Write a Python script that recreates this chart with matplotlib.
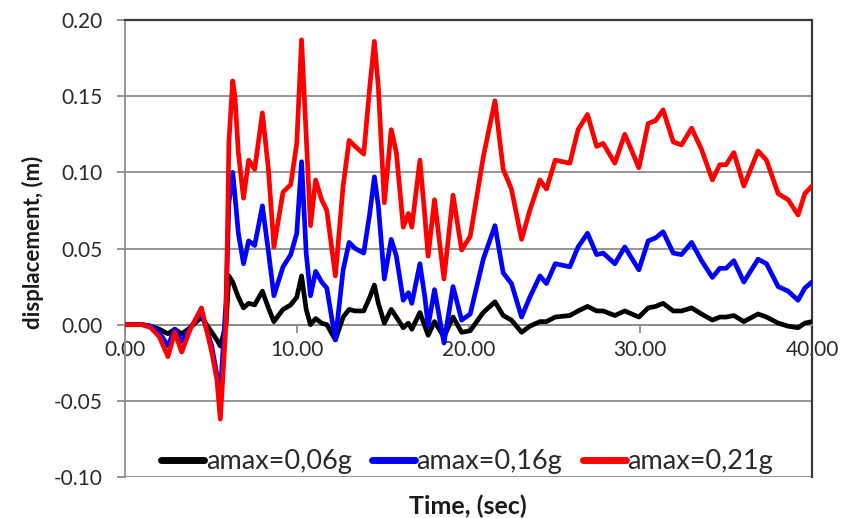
import matplotlib
matplotlib.use("Agg")
import matplotlib.pyplot as plt

time_s = [0, 1.0, 1.5, 2.0, 2.5, 2.9, 3.3, 3.8, 4.45, 5.05, 5.35, 5.55, 5.88, 6.05, 6.27, 6.4, 6.6, 6.9,
          7.2, 7.55, 8.0, 8.35, 8.67, 9.2, 9.65, 10.0, 10.28, 10.55, 10.8, 11.1, 11.45, 11.75, 12.25,
          12.7, 13.05, 13.4, 13.9, 14.25, 14.52, 14.75, 15.1, 15.5, 15.8, 16.2, 16.5, 16.7, 17.17,
          17.46, 17.65, 18.02, 18.57, 19.1, 19.6, 20.1, 20.86, 21.54, 22.02, 22.5, 23.09, 23.57,
          24.16, 24.54, 25.05, 25.9, 26.38, 26.93, 27.46, 27.84, 28.52, 29.1, 29.92, 30.46, 30.9,
          31.33, 31.92, 32.4, 32.99, 33.57, 34.2, 34.63, 35.0, 35.45, 36.03, 36.86, 37.35, 38.03,
          38.61, 39.19, 39.58, 40.0]

disp_006g = [0, 0, -0.001, -0.003, -0.006, -0.003, -0.006, -0.002, 0.005, -0.005, -0.010, -0.014, 0.0,
             0.032, 0.028, 0.024, 0.018, 0.011, 0.014, 0.013, 0.022, 0.011, 0.002, 0.010, 0.013, 0.018,
             0.032, 0.010, 0.0, 0.004, 0.001, 0.0, -0.010, 0.005, 0.010, 0.009, 0.009, 0.018, 0.026,
             0.014, 0.001, 0.010, 0.005, -0.002, 0.001, -0.003, 0.008, -0.001, -0.007, 0.002, -0.008,
             0.005, -0.005, -0.004, 0.008, 0.015, 0.006, 0.003, -0.005, -0.001, 0.002, 0.002, 0.005,
             0.006, 0.009, 0.012, 0.009, 0.009, 0.006, 0.009, 0.005, 0.011, 0.012, 0.014, 0.009, 0.009,
             0.011, 0.007, 0.003, 0.005, 0.005, 0.006, 0.002, 0.007, 0.005, 0.001, -0.001, -0.002,
             0.001, 0.002]

disp_016g = [0, 0, -0.001, -0.005, -0.014, -0.003, -0.011, -0.002, 0.008, -0.014, -0.033, -0.045, 0.015,
             0.080, 0.100, 0.085, 0.060, 0.040, 0.055, 0.052, 0.078, 0.048, 0.019, 0.038, 0.046, 0.060,
             0.107, 0.047, 0.019, 0.035, 0.028, 0.024, -0.010, 0.036, 0.054, 0.050, 0.047, 0.073, 0.097,
             0.078, 0.030, 0.056, 0.045, 0.016, 0.021, 0.014, 0.040, 0.018, -0.001, 0.023, -0.012,
             0.025, 0.003, 0.007, 0.043, 0.065, 0.034, 0.027, 0.005, 0.018, 0.032, 0.027, 0.040,
             0.038, 0.051, 0.060, 0.046, 0.047, 0.040, 0.051, 0.036, 0.055, 0.057, 0.061, 0.047, 0.046,
             0.054, 0.042, 0.031, 0.037, 0.037, 0.042, 0.028, 0.043, 0.040, 0.025, 0.022, 0.016,
             0.024, 0.028]

disp_021g = [0, 0, -0.002, -0.008, -0.021, -0.005, -0.018, -0.003, 0.011, -0.018, -0.036, -0.062, 0.0,
             0.120, 0.160, 0.150, 0.113, 0.083, 0.108, 0.102, 0.139, 0.102, 0.051, 0.087, 0.092, 0.119,
             0.187, 0.124, 0.065, 0.095, 0.082, 0.075, 0.032, 0.091, 0.121, 0.117, 0.112, 0.156, 0.186,
             0.156, 0.080, 0.128, 0.113, 0.064, 0.073, 0.064, 0.108, 0.071, 0.045, 0.082, 0.030,
             0.085, 0.049, 0.058, 0.110, 0.147, 0.102, 0.089, 0.056, 0.075, 0.095, 0.089, 0.108,
             0.106, 0.128, 0.138, 0.117, 0.119, 0.106, 0.125, 0.103, 0.132, 0.134, 0.141, 0.120, 0.118,
             0.129, 0.115, 0.095, 0.105, 0.105, 0.113, 0.091, 0.114, 0.108, 0.086, 0.082, 0.072,
             0.086, 0.091]

series_labels = ["amax=0,06g", "amax=0,16g", "amax=0,21g"]
series_colors = ["#000000", "#0000FF", "#FF0000"]

x_ticks = [0, 10, 20, 30, 40]
x_tick_labels = ["0.00", "10.00", "20.00", "30.00", "40.00"]
y_ticks = [-0.10, -0.05, 0.00, 0.05, 0.10, 0.15, 0.20]
y_tick_labels = ["-0.10", "-0.05", "0.00", "0.05", "0.10", "0.15", "0.20"]

plt.rcParams['font.family'] = ['Lato', 'DejaVu Sans']

W, H = 847, 518
fig = plt.figure(figsize=(W / 100, H / 100), dpi=100)
ax = fig.add_axes([125 / W, 1 - 477 / H, (812 - 125) / W, (477 - 20) / H])

for vals, lab, col in zip([disp_006g, disp_016g, disp_021g], series_labels, series_colors):
    ax.plot(time_s, vals, color=col, lw=3.4, label=lab, solid_joinstyle='round',
            solid_capstyle='round', zorder=3)

ax.set_xlim(0, 40)
ax.set_ylim(-0.10, 0.20)
ax.set_yticks(y_ticks)
ax.set_yticklabels(y_tick_labels)
ax.set_xticks(x_ticks)
ax.set_xticklabels(x_tick_labels)

ax.yaxis.grid(True, color="#8c8c8c", lw=1.3, zorder=1)
ax.set_axisbelow(True)

ax.spines['bottom'].set_position(('data', 0))
ax.spines['bottom'].set_color('#8c8c8c')
ax.spines['bottom'].set_linewidth(1.3)
ax.spines['left'].set_color('#8c8c8c')
ax.spines['left'].set_linewidth(1.3)
ax.spines['top'].set_color('#3a3a3a')
ax.spines['top'].set_linewidth(1.6)
ax.spines['right'].set_color('#3a3a3a')
ax.spines['right'].set_linewidth(1.6)

ax.tick_params(axis='x', direction='out', length=6, width=1.3, color='#8c8c8c',
               labelsize=15, pad=5, labelcolor='#2a2a2a')
ax.tick_params(axis='y', direction='out', length=6, width=1.3, color='#8c8c8c',
               labelsize=15, pad=10, labelcolor='#2a2a2a')

fig.text(468 / W, 1 - 506 / H, "Time, (sec)", fontsize=18, fontweight='bold',
         ha='center', va='center', color='#1a1a1a')
fig.text(33 / W, 1 - 242 / H, "displacement, (m)", fontsize=16, fontweight='bold',
         ha='center', va='center', rotation=90, color='#1a1a1a')

leg = ax.legend(loc='center', ncol=3, frameon=False, fontsize=19.5,
                handlelength=1.6, handletextpad=0.05, columnspacing=0.75,
                borderpad=0, borderaxespad=0,
                bbox_to_anchor=(467 / W, 1 - 462 / H), bbox_transform=fig.transFigure)
for line in leg.get_lines():
    line.set_linewidth(5)
    line.set_solid_capstyle('round')
for t in leg.get_texts():
    t.set_color('#2a2a2a')

fig.savefig("out.png", dpi=100)
